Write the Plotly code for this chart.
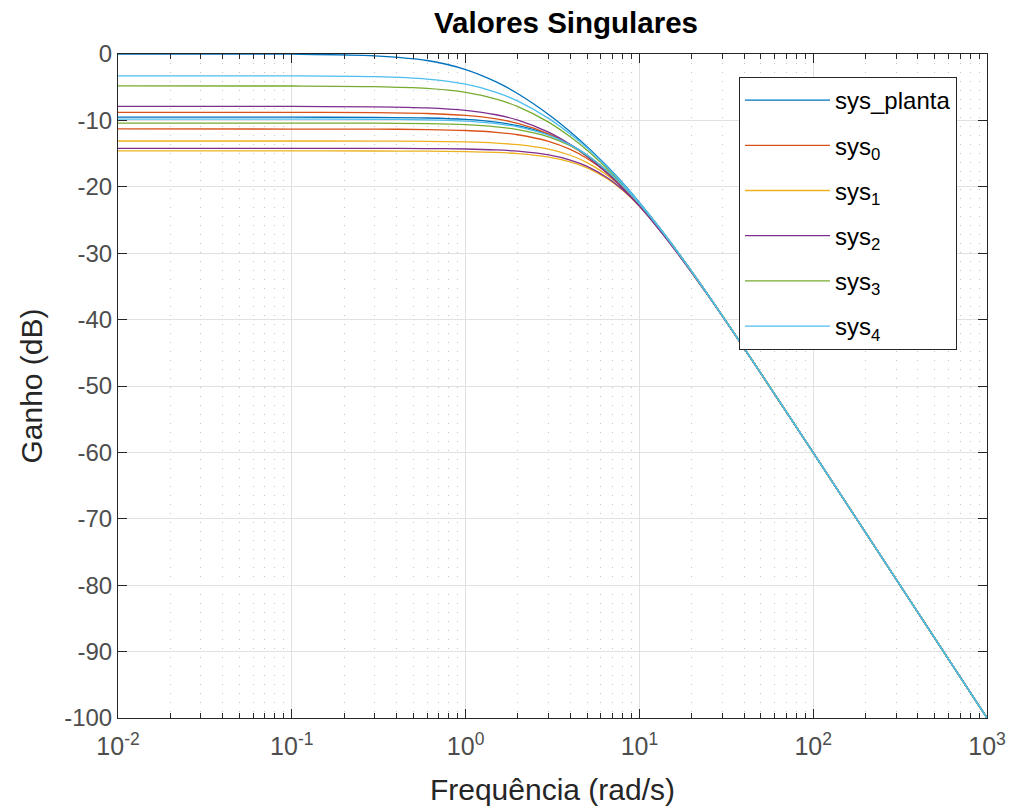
import plotly.graph_objects as go

freq = [0.01, 0.1, 0.3, 0.6, 1, 1.5, 2, 3, 4, 5, 6.5, 8, 10, 13, 17, 25, 40, 100, 1000]

# Singular values (dB), two per system
planta_sv1 = [0.00, -0.03, -0.27, -0.98, -2.34, -4.20, -5.99, -9.10, -11.70, -13.95, -16.86, -19.39, -22.34, -26.08, -30.17, -36.38, -44.27, -60.03, -100.0]
planta_sv2 = [-9.51, -9.52, -9.55, -9.64, -9.86, -10.26, -10.79, -12.11, -13.64, -15.23, -17.59, -19.84, -22.59, -26.20, -30.23, -36.40, -44.28, -60.03, -100.0]

sys0_sv1 = [-8.79, -8.79, -8.83, -8.96, -9.25, -9.78, -10.45, -12.03, -13.73, -15.42, -17.85, -20.10, -22.83, -26.39, -30.36, -36.47, -44.31, -60.04, -100.0]
sys0_sv2 = [-11.29, -11.30, -11.31, -11.38, -11.52, -11.79, -12.16, -13.15, -14.37, -15.73, -17.86, -19.98, -22.65, -26.22, -30.22, -36.40, -44.27, -60.03, -100.0]

sys1_sv1 = [-13.10, -13.10, -13.12, -13.15, -13.24, -13.42, -13.66, -14.34, -15.25, -16.35, -18.20, -20.15, -22.70, -26.20, -30.20, -36.37, -44.26, -60.03, -100.0]
sys1_sv2 = [-14.60, -14.60, -14.61, -14.64, -14.70, -14.83, -15.01, -15.52, -16.24, -17.14, -18.75, -20.51, -22.92, -26.31, -30.24, -36.39, -44.27, -60.03, -100.0]

sys2_sv1 = [-7.89, -7.90, -7.95, -8.11, -8.49, -9.15, -9.95, -11.77, -13.63, -15.42, -17.92, -20.19, -22.92, -26.47, -30.42, -36.51, -44.32, -60.04, -100.0]
sys2_sv2 = [-14.20, -14.20, -14.21, -14.24, -14.31, -14.45, -14.64, -15.20, -15.97, -16.92, -18.59, -20.40, -22.85, -26.28, -30.23, -36.38, -44.26, -60.03, -100.0]

sys3_sv1 = [-4.81, -4.82, -4.91, -5.19, -5.79, -6.79, -7.93, -10.26, -12.47, -14.49, -17.22, -19.65, -22.52, -26.19, -30.24, -36.42, -44.28, -60.03, -100.0]
sys3_sv2 = [-10.40, -10.40, -10.42, -10.49, -10.65, -10.97, -11.39, -12.48, -13.82, -15.28, -17.54, -19.74, -22.48, -26.11, -30.16, -36.37, -44.26, -60.03, -100.0]

sys4_sv1 = [-3.29, -3.30, -3.42, -3.78, -4.55, -5.77, -7.10, -9.69, -12.05, -14.16, -16.98, -19.46, -22.38, -26.10, -30.18, -36.39, -44.27, -60.03, -100.0]
sys4_sv2 = [-9.80, -9.80, -9.83, -9.91, -10.11, -10.49, -10.98, -12.23, -13.69, -15.24, -17.57, -19.80, -22.55, -26.17, -30.21, -36.39, -44.27, -60.03, -100.0]

legend_names = ["sys_planta", "sys<sub>0</sub>", "sys<sub>1</sub>", "sys<sub>2</sub>", "sys<sub>3</sub>", "sys<sub>4</sub>"]
colors = ["#0072BD", "#D95319", "#EDB120", "#7E2F8E", "#77AC30", "#4DBEEE"]

y_tick_vals = [0, -10, -20, -30, -40, -50, -60, -70, -80, -90, -100]
y_tick_text = ["0", "-10", "-20", "-30", "-40", "-50", "-60", "-70", "-80", "-90", "-100"]
x_tick_vals = [0.01, 0.1, 1, 10, 100, 1000]
x_tick_text = ["10<sup>-2</sup>", "10<sup>-1</sup>", "10<sup>0</sup>", "10<sup>1</sup>", "10<sup>2</sup>", "10<sup>3</sup>"]

systems = [
    (planta_sv1, planta_sv2),
    (sys0_sv1, sys0_sv2),
    (sys1_sv1, sys1_sv2),
    (sys2_sv1, sys2_sv2),
    (sys3_sv1, sys3_sv2),
    (sys4_sv1, sys4_sv2),
]

FONT = "Liberation Sans, Arial, Helvetica, sans-serif"

fig = go.Figure()
for i, (sv1, sv2) in enumerate(systems):
    for j, sv in enumerate((sv1, sv2)):
        fig.add_trace(go.Scatter(
            x=freq, y=sv, mode="lines",
            line=dict(color=colors[i], width=1.3, shape="spline", smoothing=0.8),
            name=legend_names[i], legendgroup=f"g{i}", showlegend=(j == 0),
        ))

axis_col = "#262626"
fig.update_xaxes(
    type="log", range=[-2, 3], tickvals=x_tick_vals, ticktext=x_tick_text,
    ticks="inside", ticklen=9, tickcolor=axis_col, tickwidth=1,
    showline=True, linecolor=axis_col, linewidth=1, mirror="allticks",
    showgrid=True, gridcolor="#e1e1e1", gridwidth=1, zeroline=False,
    minor=dict(ticks="inside", ticklen=5, tickcolor=axis_col, dtick="D1",
               showgrid=True, gridcolor="#c4c4c4", griddash="1px,8px", gridwidth=1),
    tickfont=dict(family=FONT, size=25, color="#4d4d4d"),
    ticklabelstandoff=6, automargin=False,
    title=dict(text="Frequência (rad/s)", font=dict(family=FONT, size=30, color="#262626"), standoff=19),
)
fig.update_yaxes(
    range=[-100, 0], tickvals=y_tick_vals, ticktext=y_tick_text,
    ticks="inside", ticklen=9, tickcolor=axis_col, tickwidth=1,
    showline=True, linecolor=axis_col, linewidth=1, mirror="allticks",
    showgrid=True, gridcolor="#e1e1e1", gridwidth=1, zeroline=False,
    tickfont=dict(family=FONT, size=24, color="#4d4d4d"),
    automargin=False,
    title=dict(text="Ganho (dB)", font=dict(family=FONT, size=30, color="#262626"), standoff=12),
)

fig.update_layout(
    width=1009, height=809, autosize=False,
    margin=dict(l=118, r=22, t=54, b=91),
    paper_bgcolor="white", plot_bgcolor="white",
    font=dict(family=FONT, color="#262626"),
    title=dict(text="<b>Valores Singulares</b>", x=(566 - 118) / 869, xref="paper", xanchor="center",
               y=1 - 23 / 809, yref="container", yanchor="middle",
               font=dict(family=FONT, size=29.5, color="black")),
    legend=dict(x=(739 - 118) / 869, y=(718 - 77) / 664, xanchor="left", yanchor="top",
                bgcolor="white", bordercolor="#262626", borderwidth=1,
                font=dict(family=FONT, size=24, color="black"),
                tracegroupgap=11, itemwidth=85),
    showlegend=True,
)

fig.write_html("out.html")
